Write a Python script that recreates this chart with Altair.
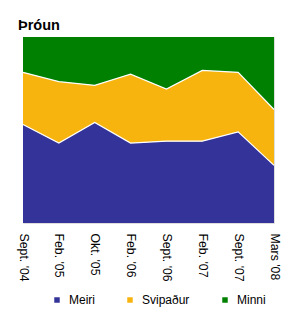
import altair as alt
import pandas as pd

dates = ["Sept. '04", "Feb. '05", "Okt. '05", "Feb. '06", "Sept. '06", "Feb. '07", "Sept. '07", "Mars '08"]
meiri = [53, 43, 54, 43, 44, 44, 49, 31]
svipadur = [28, 33, 20, 37, 28, 38, 32, 30]
minni = [19, 24, 26, 20, 28, 18, 19, 39]
series = ["Meiri", "Svipaður", "Minni"]
colors = ["#333399", "#F8B40E", "#008000"]

rows = []
for i, d in enumerate(dates):
    for k, (name, vals) in enumerate(zip(series, [meiri, svipadur, minni])):
        rows.append({"date": d, "idx": i, "cat": name, "k": k, "value": vals[i]})
df = pd.DataFrame(rows)

base = alt.Chart(df).transform_stack(
    stack="value",
    groupby=["date"],
    as_=["y0", "y1"],
    sort=[alt.SortField("k", order="ascending")],
    offset="normalize",
)

xenc = alt.X(
    "date:N",
    sort=dates,
    scale=alt.Scale(type="point", padding=0),
    axis=alt.Axis(
        title=None, labelAngle=90, labelAlign="left", labelBaseline="middle",
        labelFontSize=12.3, labelFont="Liberation Sans, Arial", labelColor="#000000",
        ticks=False, domain=False, grid=False, labelPadding=10,
    ),
)
yscale = alt.Scale(domain=[0, 1], nice=False, zero=False)

areas = base.mark_area(interpolate="linear", opacity=1).encode(
    x=xenc,
    y=alt.Y("y0:Q", scale=yscale, axis=None),
    y2="y1:Q",
    color=alt.Color(
        "cat:N",
        scale=alt.Scale(domain=series, range=colors),
        legend=alt.Legend(
            title=None, orient="none", legendX=28, legendY=257, direction="horizontal",
            symbolType="square", symbolSize=30, symbolStrokeWidth=0, labelFontSize=12,
            labelFont="Liberation Sans, Arial", labelColor="#000000",
            labelOffset=6, columnPadding=29, padding=0,
        ),
    ),
    detail="cat:N",
)

lines = base.transform_filter("datum.k < 2").mark_line(
    color="white", strokeWidth=1.2, interpolate="linear"
).encode(
    x=alt.X("date:N", sort=dates, scale=alt.Scale(type="point", padding=0)),
    y=alt.Y("y1:Q", scale=yscale),
    detail="cat:N",
)

chart = alt.layer(areas, lines).properties(
    width=251,
    height=186,
    title=alt.TitleParams(
        "Þróun", anchor="start", frame="group", dx=-5, dy=15, offset=8, fontSize=14.5,
        font="Liberation Sans, Arial", fontWeight="bold", color="#000000",
        baseline="alphabetic",
    ),
    autosize=alt.AutoSizeParams(type="none"),
    padding={"left": 23, "top": 37, "right": 16, "bottom": 102},
).configure_view(stroke="#c8c8c8", strokeWidth=1).configure(background="white")

chart.save("out.html", embed_options={"renderer": "svg", "actions": False})
